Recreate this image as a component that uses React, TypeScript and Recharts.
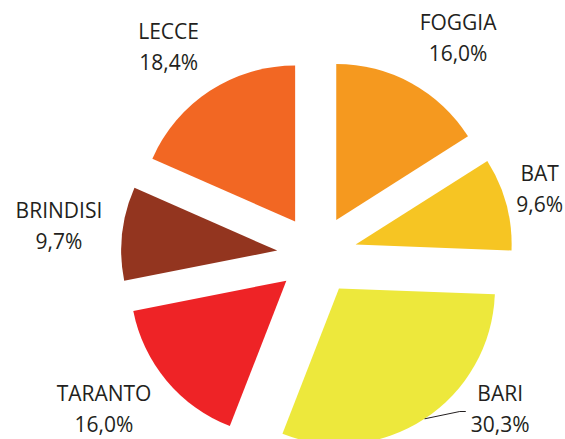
import * as React from "react"
import { Pie, PieChart, Cell } from "recharts"

const regions = ["FOGGIA", "BAT", "BARI", "TARANTO", "BRINDISI", "LECCE"]
const shares = [16.0, 9.6, 30.3, 16.0, 9.7, 18.4]

const colors = ["#F5991F", "#F6C523", "#EDE83C", "#EE2326", "#93351F", "#F26723"]

const W = 565
const H = 439
const CX = 317
const CY = 255
const RADIUS = 156
const EXPLODE = 40
const LABEL_GAP = 20
const FONT = '"Open Sans", sans-serif'
const FONT_SIZE = 21
const CAP = 15
const LINE_GAP = 31
const DESC = 5
const INK = "#231F20"
const RAD = Math.PI / 180

const rows = regions.map((name, i) => ({ name, value: shares[i] }))
const total = shares.reduce((a, b) => a + b, 0)

// middle of each slice, clockwise from 12 o'clock like the pie itself
const midAngles = shares.map((v, i) => {
  const before = shares.slice(0, i).reduce((a, b) => a + b, 0)
  return 90 - (360 * (before + v / 2)) / total
})

const pct = (v: number) => v.toFixed(1).replace(".", ",") + "%"

let ctx: CanvasRenderingContext2D | null = null
function textWidth(s: string) {
  if (!ctx) ctx = document.createElement("canvas").getContext("2d")
  if (!ctx) return s.length * FONT_SIZE * 0.62
  ctx.font = `${FONT_SIZE}px ${FONT}`
  return ctx.measureText(s).width
}

const clamp1 = (t: number) => Math.max(-1, Math.min(1, t))

function SliceLabel(props: any) {
  const { cx, cy, midAngle, outerRadius, index } = props
  const lines = [regions[index], pct(shares[index])]
  const cos = Math.cos(midAngle * RAD)
  const sin = -Math.sin(midAngle * RAD)
  const w = Math.max(...lines.map(textWidth))
  const h = CAP + LINE_GAP + DESC

  const r = outerRadius + LABEL_GAP
  const bx = cx + r * cos + (w / 2) * clamp1(cos * 2)
  const by = cy + r * sin + (h / 2) * clamp1(sin * 1.15)

  let left = Math.min(Math.max(bx - w / 2, 2), W - 2 - w)
  let top = Math.min(Math.max(by - h / 2, 2), H - 2 - h)

  // squeezed back onto the slice: slide sideways until it is clear again
  if (top !== by - h / 2) {
    const clear = outerRadius + 8
    const nx = cos >= 0 ? left : left + w
    const ny = sin >= 0 ? top : top + h
    const dy = ny - cy
    if (Math.hypot(nx - cx, dy) < clear && Math.abs(dy) < clear) {
      const need = Math.sqrt(clear * clear - dy * dy)
      left = cos >= 0 ? cx + need : cx - need - w
    }
  }
  const moved = Math.hypot(left + w / 2 - bx, top + h / 2 - by)

  let leader = null
  if (moved > 20) {
    const sx = cx + outerRadius * cos
    const sy = cy + outerRadius * sin
    const ly = top + h / 2
    const ex = cos >= 0 ? left - 5 : left + w + 5
    const kx = cos >= 0 ? ex - 6 : ex + 6
    leader = (
      <polyline
        points={`${sx},${sy} ${kx},${ly} ${ex},${ly}`}
        fill="none"
        stroke={INK}
        strokeWidth={1}
      />
    )
  }

  return (
    <g>
      {leader}
      {lines.map((s, k) => (
        <text
          key={k}
          x={left + w / 2}
          y={top + CAP + k * LINE_GAP}
          textAnchor="middle"
          fontFamily={FONT}
          fontSize={FONT_SIZE}
          fill={INK}
        >
          {s}
        </text>
      ))}
    </g>
  )
}

export default function App() {
  return (
    <div style={{ position: "absolute", left: 0, top: 0, width: W, height: H, background: "#fff" }}>
      <PieChart width={W} height={H} margin={{ top: 0, right: 0, bottom: 0, left: 0 }}>
        {rows.map((_, i) => (
          <Pie
            key={regions[i]}
            data={rows}
            dataKey="value"
            nameKey="name"
            cx={CX + EXPLODE * Math.cos(midAngles[i] * RAD)}
            cy={CY - EXPLODE * Math.sin(midAngles[i] * RAD)}
            innerRadius={0}
            outerRadius={RADIUS}
            startAngle={90}
            endAngle={-270}
            stroke="none"
            labelLine={false}
            label={(p: any) => (p.index === i ? <SliceLabel {...p} /> : null)}
            isAnimationActive={false}
          >
            {rows.map((row, j) => (
              <Cell key={row.name} fill={j === i ? colors[j] : "none"} />
            ))}
          </Pie>
        ))}
      </PieChart>
    </div>
  )
}
